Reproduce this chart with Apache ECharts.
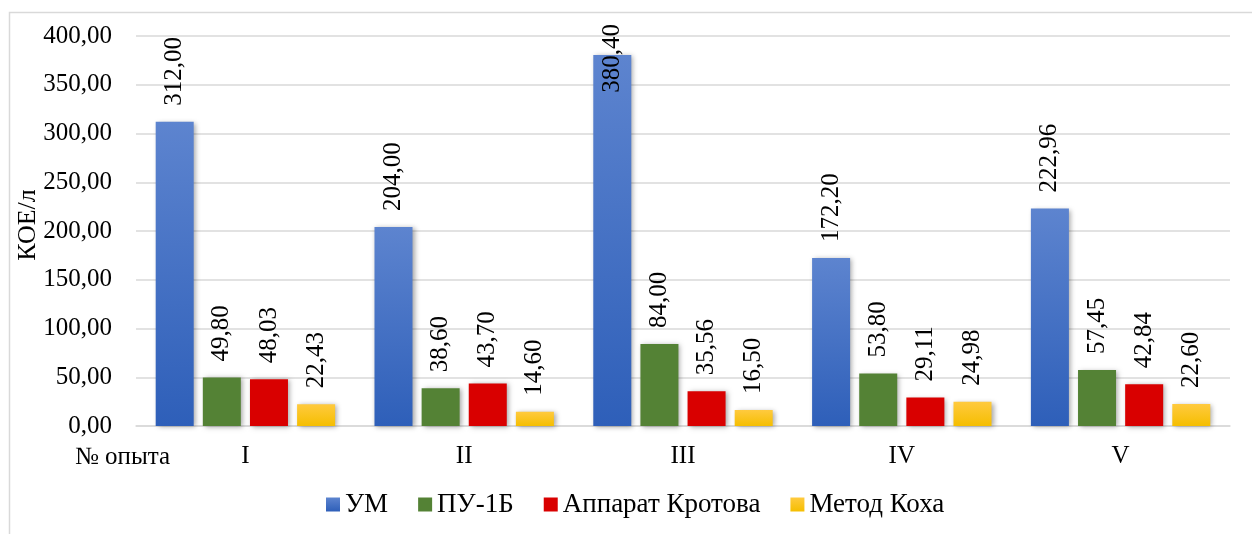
<!DOCTYPE html>
<html><head><meta charset="utf-8">
<script src="https://cdn.jsdelivr.net/npm/echarts@6/dist/echarts.min.js"></script>
<style>html,body{margin:0;padding:0;background:#fff}#c{width:1252px;height:534px}</style>
</head><body><div id="c"></div>
<script>
const categories = ['I', 'II', 'III', 'IV', 'V'];
const seriesNames = ['УМ', 'ПУ-1Б', 'Аппарат Кротова', 'Метод Коха'];
const um = [312.00, 204.00, 380.40, 172.20, 222.96];
const pu1b = [49.80, 38.60, 84.00, 53.80, 57.45];
const krotov = [48.03, 43.70, 35.56, 29.11, 42.84];
const koch = [22.43, 14.60, 16.50, 24.98, 22.60];
const yTicks = [0, 50, 100, 150, 200, 250, 300, 350, 400];
const yTitle = 'КОЕ/л';
const xTitle = '№ опыта';

const FONT = 'Liberation Serif';
const FS = 25;
const fmt = v => Number(v).toFixed(2).replace('.', ',');
const grad = (a, b) => new echarts.graphic.LinearGradient(0, 0, 0, 1, [{offset: 0, color: a}, {offset: 1, color: b}]);
const colors = [grad('#5d84cf', '#2e5fb9'), '#548235', '#d90000', grad('#ffca3f', '#f5be00')];
const datasets = [um, pu1b, krotov, koch];

const chart = echarts.init(document.getElementById('c'), null, {renderer: 'canvas'});
const series = datasets.map((d, i) => ({
  name: seriesNames[i],
  type: 'bar',
  barGap: '24%',
  barCategoryGap: '18%',
  data: d.map(v => {
    const item = {value: v};
    if (v > 370) {
      item.label = {position: 'insideTop', rotate: 90, align: 'right', verticalAlign: 'middle', distance: 5, offset: [36, 0]};
    }
    return item;
  }),
  itemStyle: {color: colors[i], shadowBlur: 5, shadowColor: 'rgba(0,0,0,0.35)', shadowOffsetX: 2, shadowOffsetY: 1},
  label: {
    show: true, position: 'top', rotate: 90, align: 'left', verticalAlign: 'middle',
    distance: 16, color: '#000', fontFamily: FONT, fontSize: FS,
    formatter: p => fmt(p.value)
  }
}));

chart.setOption({
  animation: false,
  backgroundColor: '#fff',
  textStyle: {fontFamily: FONT},
  grid: {left: 136, right: 22, top: 36, bottom: 108, containLabel: false},
  legend: {
    data: seriesNames.map((n, i) => ({name: n, itemStyle: {color: colors[i], shadowBlur: 0}})),
    top: 486, left: 321, itemWidth: 14, itemHeight: 14, itemGap: 30,
    icon: 'rect',
    textStyle: {fontFamily: FONT, fontSize: 27, color: '#000', padding: [0, 0, 0, 0]}
  },
  xAxis: {
    type: 'category', data: categories,
    axisLine: {lineStyle: {color: '#d9d9d9', width: 1.5}},
    axisTick: {show: false},
    axisLabel: {color: '#000', fontFamily: FONT, fontSize: FS, margin: 18}
  },
  yAxis: {
    type: 'value', min: 0, max: 400, interval: 50,
    axisLine: {show: false}, axisTick: {show: false},
    splitLine: {lineStyle: {color: '#d9d9d9', width: 1.5}},
    axisLabel: {color: '#000', fontFamily: FONT, fontSize: FS, margin: 24, formatter: v => yTicks.includes(v) ? fmt(v) : ''}
  },
  graphic: [
    {type: 'rect', left: 7, top: 10, shape: {width: 1400, height: 700}, style: {fill: 'none', stroke: '#d9d9d9', lineWidth: 1.5}, silent: true, z: -1},
    {type: 'text', x: 28, y: 225, rotation: Math.PI / 2, style: {text: yTitle, font: '26px "' + FONT + '"', fill: '#000', align: 'center', verticalAlign: 'middle'}},
    {type: 'text', left: 75, top: 445, style: {text: xTitle, font: FS + 'px "' + FONT + '"', fill: '#000'}}
  ],
  series: series
});
</script></body></html>
